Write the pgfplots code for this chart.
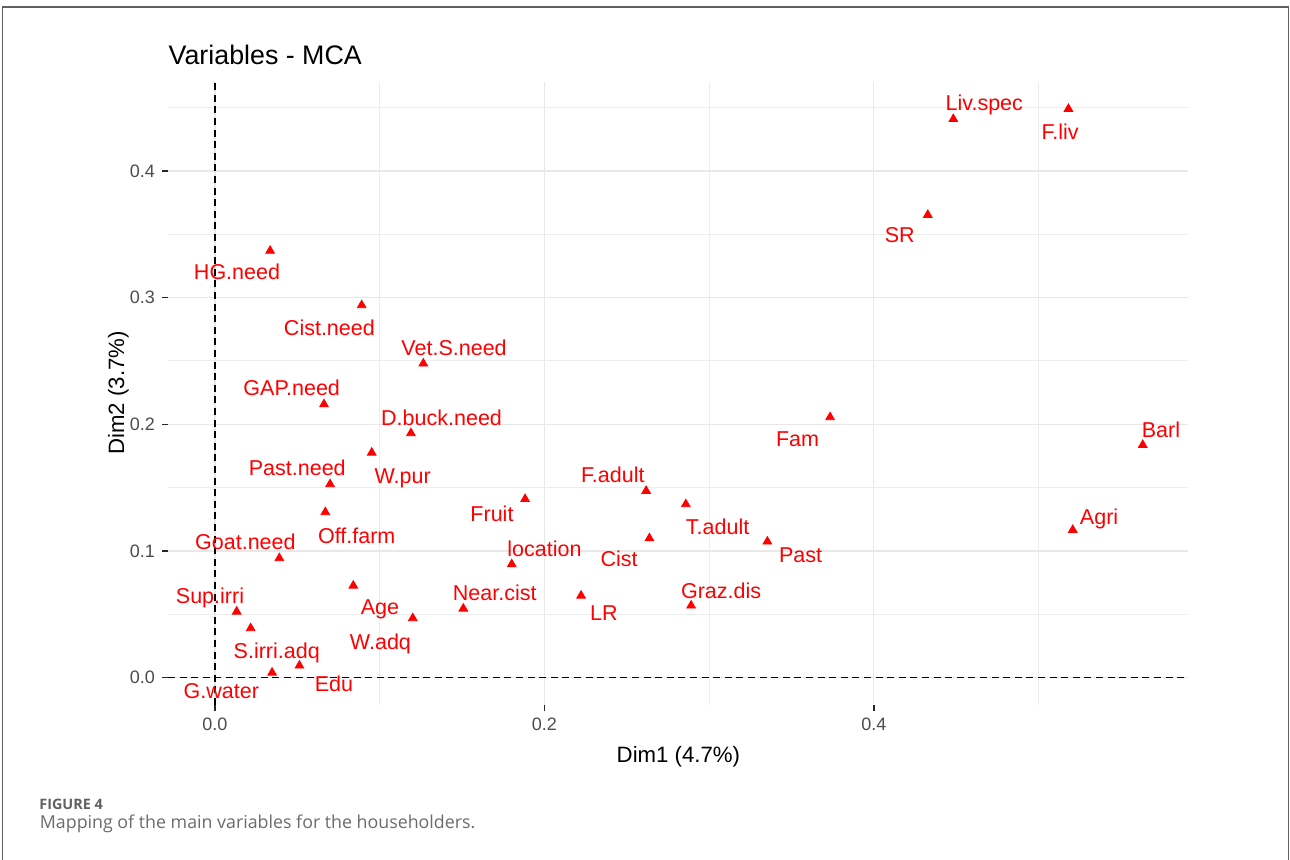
\documentclass[border=0pt]{standalone}
\usepackage{fontspec}
\setmainfont{Liberation Sans}
\newfontfamily\capfont{Open Sans}
\usepackage{pgfplots}
\usepackage{pgfplotstable}
\pgfplotsset{compat=1.18}

\pgfplotstableread{
name x y lx ly
HG.need 0.0335 0.337 0.0134 0.3203
Cist.need 0.0891 0.294 0.0695 0.2763
Vet.S.need 0.1265 0.248 0.1452 0.2605
GAP.need 0.0662 0.2158 0.0466 0.2287
D.buck.need 0.119 0.193 0.1376 0.2053
W.pur 0.0952 0.1776 0.1140 0.1592
Past.need 0.0699 0.1527 0.0500 0.1653
Off.farm 0.067 0.1306 0.0861 0.1121
Goat.need 0.0391 0.0943 0.0185 0.1069
Fruit 0.1883 0.141 0.1682 0.1290
location 0.1802 0.0895 0.2001 0.1016
Near.cist 0.1508 0.0545 0.1699 0.0666
Sup.irri 0.0132 0.0521 -0.0030 0.0645
Age 0.084 0.0726 0.1002 0.0561
W.adq 0.1201 0.0469 0.1005 0.0279
S.irri.adq 0.0217 0.039 0.0375 0.0213
Edu 0.0513 0.0095 0.0723 -0.0052
G.water 0.0347 0.0039 0.0039 -0.0105
F.adult 0.2618 0.1474 0.2416 0.1600
T.adult 0.2859 0.1369 0.3052 0.1192
Cist 0.2638 0.110 0.2454 0.0935
Past 0.3354 0.1074 0.3556 0.0969
LR 0.2223 0.0647 0.2362 0.0508
Graz.dis 0.2891 0.0569 0.3073 0.0684
Fam 0.3735 0.2056 0.3537 0.1884
Liv.spec 0.4483 0.441 0.4671 0.4535
F.liv 0.5182 0.449 0.5131 0.4310
SR 0.4328 0.3653 0.4158 0.3495
Barl 0.5633 0.1837 0.5744 0.1955
Agri 0.5208 0.1166 0.5368 0.1271
}\mcadata

\begin{document}
\begin{tikzpicture}
\useasboundingbox (0,0) rectangle (645pt,430pt);
\draw[black!62, line width=0.75pt] (1.35pt,-3pt) rectangle (644.15pt,426.4pt);
\begin{axis}[
  at={(84pt,77.5pt)}, anchor=south west,
  scale only axis, width=510pt, height=311.65pt,
  xmin=-0.0285, xmax=0.5908, ymin=-0.0216, ymax=0.4705,
  axis line style={draw=none},
  xtick={0,0.2,0.4}, ytick={0,0.1,0.2,0.3,0.4},
  minor xtick={0.1,0.3,0.5}, minor ytick={0.05,0.15,0.25,0.35,0.45},
  grid=both,
  major grid style={draw=black!9, line width=0.7pt},
  minor grid style={draw=black!7, line width=0.5pt},
  tick align=outside, major tick length=3pt, minor tick length=0pt,
  tick style={draw=black!85, line width=0.75pt},
  xtick pos=bottom, ytick pos=left,
  ticklabel style={font=\fontsize{9}{9}\selectfont, text=black!70},
  /pgf/number format/.cd, fixed, fixed zerofill, precision=1, assume math mode=true,
]
\addplot[black, line width=0.6pt, dash pattern=on 3.5pt off 2.3pt, forget plot] coordinates {(0,-0.0216) (0,0.4705)};
\addplot[black, line width=0.6pt, dash pattern=on 3.5pt off 2.3pt, forget plot] coordinates {(-0.0285,0) (0.5908,0)};
\addplot[only marks, mark=triangle*, mark size=2.5pt, color=red] table[x=x, y=y] {\mcadata};
\addplot[only marks, mark=none, nodes near coords, point meta=explicit symbolic,
  nodes near coords style={anchor=center, text=red, font=\fontsize{10.75}{11}\selectfont, inner sep=0pt, text height=7.7pt, text depth=0pt}]
  table[x=lx, y=ly, meta=name] {\mcadata};
\end{axis}
\node[anchor=base west, inner sep=0pt, font=\fontsize{13.4}{14}\selectfont] at (84.15pt,397.5pt) {Variables - MCA};
\node[anchor=base, inner sep=0pt, font=\fontsize{11.1}{12}\selectfont] at (339.2pt,48.6pt) {Dim1 (4.7\%)};
\node[anchor=base, rotate=90, inner sep=0pt, font=\fontsize{11.1}{12}\selectfont] at (62pt,233.5pt) {Dim2 (3.7\%)};
\node[anchor=base west, inner sep=0pt, font=\capfont\bfseries\fontsize{7.2}{8}\selectfont, text=black!62] at (19.5pt,25pt) {FIGURE 4};
\node[anchor=base west, inner sep=0pt, font=\capfont\fontsize{8.9}{10}\selectfont, text=black!58] at (19.75pt,15.8pt) {Mapping of the main variables for the householders.};
\end{tikzpicture}
\end{document}
